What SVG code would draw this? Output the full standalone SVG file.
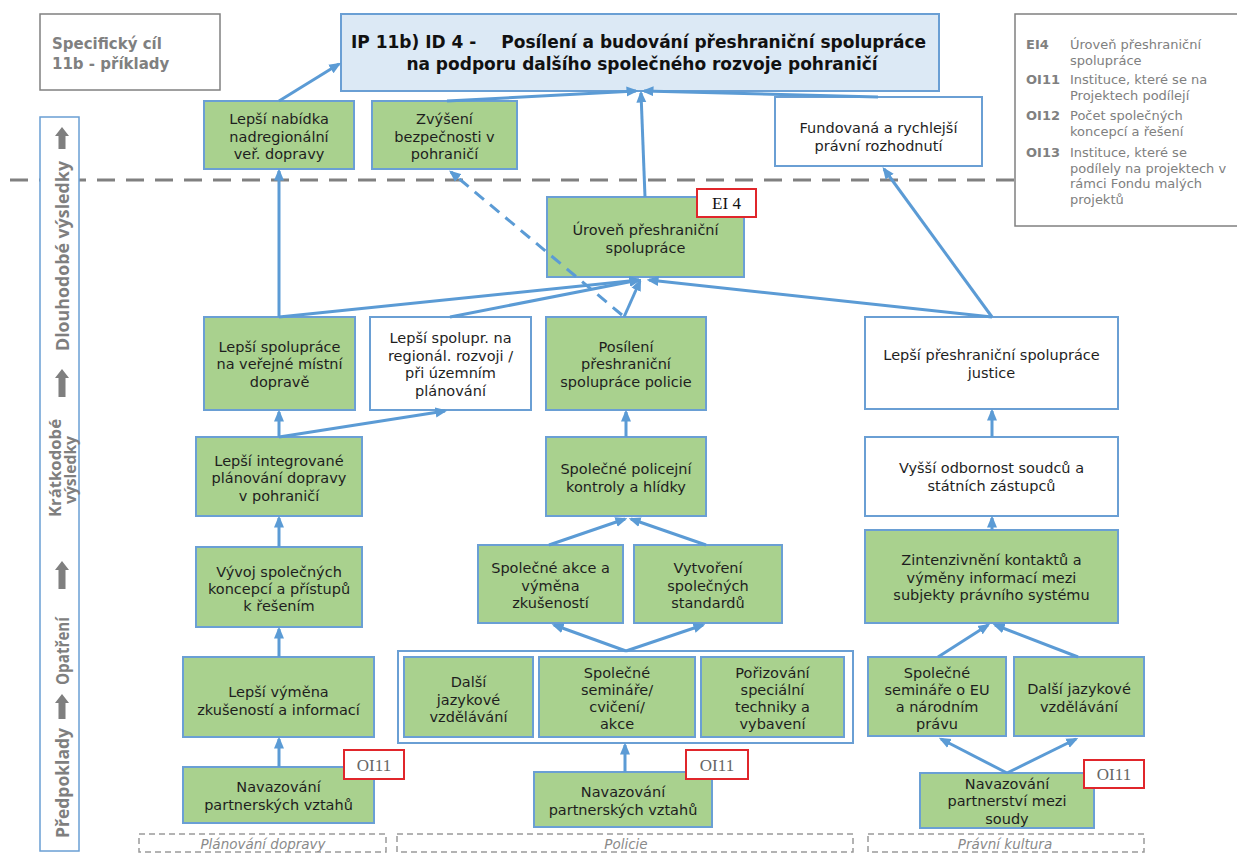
<svg xmlns="http://www.w3.org/2000/svg" width="1237" height="853" viewBox="0 0 1237 853">
<style>
.g{fill:#a9d18e;stroke:#6a9fd4;stroke-width:2}
.w{fill:#fff;stroke:#6a9fd4;stroke-width:2}
.t{font-family:"DejaVu Sans",Verdana,sans-serif;font-size:14.5px;fill:#1e1e1e;text-anchor:middle}
.c{stroke:#5b9bd5;stroke-width:3;fill:none;marker-end:url(#ah)}
.d{stroke-dasharray:12 8}
.lab{fill:#fff;stroke:#e0262b;stroke-width:2}
.labt{font-family:"Liberation Serif",serif;font-size:17px;text-anchor:middle}
.gray{fill:none;stroke:#808080;stroke-width:1.5}
.lg{font-family:"DejaVu Sans",Verdana,sans-serif;font-size:13px;fill:#808080}
.lgb{font-weight:bold}
.ax{font-family:"Open Sans","DejaVu Sans",sans-serif;font-weight:bold;font-size:17px;fill:#7f7f7f;text-anchor:middle}
.gar{fill:#7f7f7f}
.bx{fill:none;stroke:#9a9a9a;stroke-width:1.5;stroke-dasharray:6 4}
.bt{font-family:"DejaVu Sans",Verdana,sans-serif;font-style:italic;font-size:13.5px;fill:#8a8a8a;text-anchor:middle}
.tt{font-family:"DejaVu Sans",sans-serif;font-weight:bold;font-size:17px;fill:#111}
</style>
<defs>
<marker id="ah" viewBox="0 0 12 11" refX="9.5" refY="5.5" markerWidth="12" markerHeight="11" markerUnits="userSpaceOnUse" orient="auto">
<path d="M0,0.5 L12,5.5 L0,10.5 z" fill="#5b9bd5"/>
</marker>
</defs>
<rect width="1237" height="853" fill="#fff"/>

<!-- separator -->
<line x1="10" y1="180" x2="1015" y2="180" stroke="#808080" stroke-width="3" stroke-dasharray="18 11"/>

<g id="spec">
<rect class="gray" x="40" y="14" width="180" height="76"/>
<text x="52" y="48.5" font-family="DejaVu Sans,sans-serif" font-weight="bold" font-size="15" fill="#808080">Specifický cíl</text>
<text x="52" y="69" font-family="DejaVu Sans,sans-serif" font-weight="bold" font-size="15" fill="#808080">11b - příklady</text>
</g>

<g id="title">
<rect x="341" y="14" width="598" height="77" fill="#dce9f5" stroke="#6a9fd4" stroke-width="2"/>
<text class="tt" x="351" y="48">IP 11b) ID 4 -</text>
<text class="tt" x="926" y="48" text-anchor="end">Posílení a budování přeshraniční spolupráce</text>
<text class="tt" x="642" y="70" text-anchor="middle">na podporu dalšího společného rozvoje pohraničí</text>
</g>

<g id="legend">
<rect class="gray" x="1015" y="14" width="240" height="212"/>
<text class="lg lgb" x="1026" y="48.5">EI4</text>
<text class="lg" x="1070" y="48.5">Úroveň přeshraniční</text>
<text class="lg" x="1070" y="64.5">spolupráce</text>
<text class="lg lgb" x="1026" y="84">OI11</text>
<text class="lg" x="1070" y="84">Instituce, které se na</text>
<text class="lg" x="1070" y="100">Projektech podílejí</text>
<text class="lg lgb" x="1026" y="120">OI12</text>
<text class="lg" x="1070" y="120">Počet společných</text>
<text class="lg" x="1070" y="136">koncepcí a řešení</text>
<text class="lg lgb" x="1026" y="157">OI13</text>
<text class="lg" x="1070" y="157">Instituce, které se</text>
<text class="lg" x="1070" y="172.5">podílely na projektech v</text>
<text class="lg" x="1070" y="188">rámci Fondu malých</text>
<text class="lg" x="1070" y="203.5">projektů</text>
</g>

<g id="axis">
<rect x="40" y="117" width="39" height="734" fill="#fff" stroke="#6a9fd4" stroke-width="1.5"/>
<path class="gar" d="M62,127 L69,136 L65.5,136 L65.5,149 L58.5,149 L58.5,136 L55,136 z"/>
<path class="gar" d="M62,369 L69,378 L65.5,378 L65.5,397 L58.5,397 L58.5,378 L55,378 z"/>
<path class="gar" d="M62,561 L69,570 L65.5,570 L65.5,589 L58.5,589 L58.5,570 L55,570 z"/>
<path class="gar" d="M62,694 L69,703 L65.5,703 L65.5,719 L58.5,719 L58.5,703 L55,703 z"/>
<text class="ax" transform="translate(69,256) rotate(-90)" textLength="190" lengthAdjust="spacingAndGlyphs">Dlouhodobé výsledky</text>
<text class="ax" style="font-size:16px" transform="translate(61,468) rotate(-90)" textLength="98" lengthAdjust="spacingAndGlyphs">Krátkodobé</text>
<text class="ax" style="font-size:16px" transform="translate(76,470) rotate(-90)" textLength="68" lengthAdjust="spacingAndGlyphs">výsledky</text>
<text class="ax" transform="translate(69,651) rotate(-90)" textLength="68" lengthAdjust="spacingAndGlyphs">Opatření</text>
<text class="ax" transform="translate(69,783) rotate(-90)" textLength="110" lengthAdjust="spacingAndGlyphs">Předpoklady</text>
</g>

<g id="n_nabidka"><rect class="g" x="204" y="101" width="150" height="68"/>
<text class="t" x="279" y="124">Lepší nabídka</text><text class="t" x="279" y="141.5">nadregionální</text><text class="t" x="279" y="159">veř. dopravy</text></g>

<g id="n_zvyseni"><rect class="g" x="372" y="101" width="145" height="68"/>
<text class="t" x="444.5" y="124">Zvýšení</text><text class="t" x="444.5" y="141.5">bezpečnosti v</text><text class="t" x="444.5" y="159">pohraničí</text></g>

<g id="n_fundovana"><rect class="w" x="775" y="97" width="207" height="69"/>
<text class="t" x="878.5" y="133">Fundovaná a rychlejší</text><text class="t" x="878.5" y="150.5">právní rozhodnutí</text></g>

<g id="n_uroven"><rect class="g" x="547" y="197" width="197" height="80"/>
<text class="t" x="645.5" y="235">Úroveň přeshraniční</text><text class="t" x="645.5" y="252.5">spolupráce</text>
<rect class="lab" x="697" y="189" width="59" height="28"/><text class="labt" x="726.5" y="209" fill="#111">EI 4</text></g>

<g id="n_doprava"><rect class="g" x="204" y="317" width="151" height="93"/>
<text class="t" x="279.5" y="351.5">Lepší spolupráce</text><text class="t" x="279.5" y="369">na veřejné místní</text><text class="t" x="279.5" y="386.5">dopravě</text></g>

<g id="n_region"><rect class="w" x="370" y="317" width="161" height="93"/>
<text class="t" x="450.5" y="343">Lepší spolupr. na</text><text class="t" x="450.5" y="360.5">regionál. rozvoji /</text><text class="t" x="450.5" y="378">při územním</text><text class="t" x="450.5" y="395.5">plánování</text></g>

<g id="n_posileni"><rect class="g" x="546" y="317" width="160" height="93"/>
<text class="t" x="626" y="351.5">Posílení</text><text class="t" x="626" y="369">přeshraniční</text><text class="t" x="626" y="386.5">spolupráce policie</text></g>

<g id="n_justice"><rect class="w" x="865" y="317" width="253" height="92"/>
<text class="t" x="991.5" y="360">Lepší přeshraniční spolupráce</text><text class="t" x="991.5" y="377.5">justice</text></g>

<g id="n_integr"><rect class="g" x="196" y="437" width="166" height="79"/>
<text class="t" x="279" y="466">Lepší integrované</text><text class="t" x="279" y="483">plánování dopravy</text><text class="t" x="279" y="500.5">v pohraničí</text></g>

<g id="n_kontroly"><rect class="g" x="546" y="437" width="160" height="79"/>
<text class="t" x="626" y="474">Společné policejní</text><text class="t" x="626" y="491.5">kontroly a hlídky</text></g>

<g id="n_vyssi"><rect class="w" x="865" y="437" width="253" height="79"/>
<text class="t" x="991.5" y="473">Vyšší odbornost soudců a</text><text class="t" x="991.5" y="490.5">státních zástupců</text></g>

<g id="n_vyvoj"><rect class="g" x="196" y="547" width="166" height="80"/>
<text class="t" x="279" y="577">Vývoj společných</text><text class="t" x="279" y="594">koncepcí a přístupů</text><text class="t" x="279" y="611">k řešením</text></g>

<g id="n_akce"><rect class="g" x="478" y="545" width="145" height="78"/>
<text class="t" x="550.5" y="573">Společné akce a</text><text class="t" x="550.5" y="590.5">výměna</text><text class="t" x="550.5" y="608">zkušeností</text></g>

<g id="n_vytvoreni"><rect class="g" x="634" y="545" width="148" height="78"/>
<text class="t" x="708" y="573">Vytvoření</text><text class="t" x="708" y="590.5">společných</text><text class="t" x="708" y="608">standardů</text></g>

<g id="n_zintenz"><rect class="g" x="865" y="530" width="253" height="93"/>
<text class="t" x="991.5" y="565">Zintenzivnění kontaktů a</text><text class="t" x="991.5" y="582.5">výměny informací mezi</text><text class="t" x="991.5" y="600">subjekty právního systému</text></g>

<g id="n_vymena"><rect class="g" x="183" y="657" width="191" height="80"/>
<text class="t" x="278.5" y="697">Lepší výměna</text><text class="t" x="278.5" y="714.5">zkušeností a informací</text></g>

<g id="n_container"><rect class="w" x="398" y="651" width="455" height="92"/></g>

<g id="n_jazyk1"><rect class="g" x="404" y="657" width="129" height="80"/>
<text class="t" x="468.5" y="687">Další</text><text class="t" x="468.5" y="704.5">jazykové</text><text class="t" x="468.5" y="722">vzdělávání</text></g>

<g id="n_seminare"><rect class="g" x="539" y="657" width="156" height="80"/>
<text class="t" x="617" y="678">Společné</text><text class="t" x="617" y="695">semináře/</text><text class="t" x="617" y="712">cvičení/</text><text class="t" x="617" y="729">akce</text></g>

<g id="n_porizovani"><rect class="g" x="701" y="657" width="143" height="80"/>
<text class="t" x="772.5" y="677.5">Pořizování</text><text class="t" x="772.5" y="694.5">speciální</text><text class="t" x="772.5" y="711.5">techniky a</text><text class="t" x="772.5" y="728.5">vybavení</text></g>

<g id="n_seminare_eu"><rect class="g" x="868" y="657" width="138" height="79"/>
<text class="t" x="937" y="677.5">Společné</text><text class="t" x="937" y="694.5">semináře o EU</text><text class="t" x="937" y="711.5">a národním</text><text class="t" x="937" y="728.5">právu</text></g>

<g id="n_jazyk2"><rect class="g" x="1014" y="657" width="130" height="79"/>
<text class="t" x="1079" y="694">Další jazykové</text><text class="t" x="1079" y="711.5">vzdělávání</text></g>

<g id="n_nav1"><rect class="g" x="183" y="767" width="191" height="56"/>
<text class="t" x="278.5" y="792">Navazování</text><text class="t" x="278.5" y="810">partnerských vztahů</text>
<rect class="lab" x="344" y="750" width="60" height="29"/><text class="labt" x="374" y="771" fill="#666">OI11</text></g>

<g id="n_nav2"><rect class="g" x="534" y="772" width="178" height="55"/>
<text class="t" x="623" y="797">Navazování</text><text class="t" x="623" y="815">partnerských vztahů</text>
<rect class="lab" x="686" y="750" width="62" height="29"/><text class="labt" x="717" y="771" fill="#666">OI11</text></g>

<g id="n_nav3"><rect class="g" x="920" y="773" width="174" height="55"/>
<text class="t" x="1007" y="788.5">Navazování</text><text class="t" x="1007" y="806">partnerství mezi</text><text class="t" x="1007" y="823.5">soudy</text>
<rect class="lab" x="1084" y="760" width="60" height="28"/><text class="labt" x="1114" y="780" fill="#666">OI11</text></g>

<g id="groups">
<rect class="bx" x="139" y="834" width="247" height="18"/>
<text class="bt" x="263" y="849">Plánování dopravy</text>
<rect class="bx" x="397" y="834" width="456" height="18"/>
<text class="bt" x="626" y="849">Policie</text>
<rect class="bx" x="868" y="834" width="276" height="18"/>
<text class="bt" x="1005" y="849">Právní kultura</text>
</g>

<g id="connectors">
<path class="c" d="M279,317 L279,171"/>
<path class="c" d="M279,101 L339,64"/>
<path class="c" d="M447,101 L636,91"/>
<path class="c" d="M645,197 L641,93"/>
<path class="c" d="M878,97 L644,91"/>
<path class="c" d="M279,317 L639,280"/>
<path class="c" d="M450,317 L639,280"/>
<path class="c" d="M624,317 L640,281"/>
<path class="c" d="M992,317 L649,280"/>
<path class="c" d="M992,317 L884,169"/>
<path class="c d" d="M622,315 L451,172"/>
<path class="c" d="M279,437 L279,412"/>
<path class="c" d="M279,437 L445,411"/>
<path class="c" d="M626,437 L626,412"/>
<path class="c" d="M992,437 L992,411"/>
<path class="c" d="M279,547 L279,518"/>
<path class="c" d="M549,545 L625,519"/>
<path class="c" d="M706,545 L631,519"/>
<path class="c" d="M992,530 L992,518"/>
<path class="c" d="M279,657 L279,629"/>
<path class="c" d="M626,651 L554,625"/>
<path class="c" d="M626,651 L703,625"/>
<path class="c" d="M938,657 L988,625"/>
<path class="c" d="M1078,657 L995,625"/>
<path class="c" d="M279,767 L279,739"/>
<path class="c" d="M625,772 L625,745"/>
<path class="c" d="M1007,773 L941,739"/>
<path class="c" d="M1007,773 L1076,739"/>
</g>
</svg>
